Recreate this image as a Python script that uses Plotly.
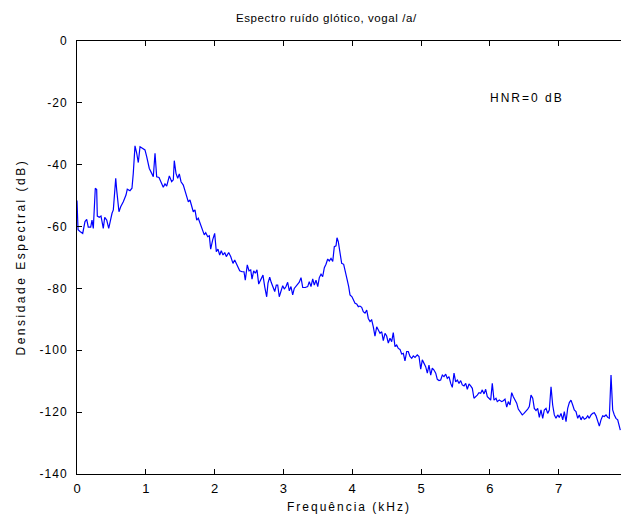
import plotly.graph_objects as go

freq_khz = [
    0.000, 0.015, 0.044, 0.083, 0.116, 0.141, 0.164, 0.199, 0.218, 0.237,
    0.266, 0.286, 0.295, 0.324, 0.349, 0.382, 0.403, 0.432, 0.461, 0.480,
    0.509, 0.528, 0.563, 0.577, 0.610, 0.635, 0.673, 0.712, 0.731, 0.770,
    0.799, 0.818, 0.843, 0.868, 0.891, 0.916, 0.955, 0.988, 1.013, 1.051,
    1.086, 1.109, 1.134, 1.158, 1.192, 1.231, 1.254, 1.279, 1.304, 1.342,
    1.376, 1.400, 1.414, 1.439, 1.464, 1.487, 1.512, 1.545, 1.570, 1.594,
    1.618, 1.642, 1.667, 1.690, 1.715, 1.740, 1.763, 1.788, 1.821, 1.850,
    1.871, 1.900, 1.923, 1.943, 1.972, 2.001, 2.025, 2.049, 2.074, 2.097,
    2.122, 2.147, 2.170, 2.205, 2.234, 2.267, 2.292, 2.330, 2.365, 2.398,
    2.427, 2.446, 2.475, 2.500, 2.525, 2.544, 2.568, 2.592, 2.616, 2.641,
    2.670, 2.703, 2.728, 2.757, 2.776, 2.801, 2.824, 2.849, 2.874, 2.897,
    2.917, 2.940, 2.965, 2.990, 3.013, 3.038, 3.062, 3.086, 3.110, 3.135,
    3.158, 3.183, 3.208, 3.231, 3.256, 3.281, 3.318, 3.353, 3.376, 3.401,
    3.426, 3.449, 3.474, 3.499, 3.522, 3.547, 3.571, 3.595, 3.619, 3.644,
    3.667, 3.692, 3.717, 3.740, 3.765, 3.779, 3.798, 3.823, 3.847, 3.876,
    3.900, 3.924, 3.949, 3.968, 3.997, 4.016, 4.041, 4.065, 4.089, 4.113,
    4.138, 4.161, 4.186, 4.211, 4.234, 4.259, 4.283, 4.307, 4.331, 4.356,
    4.379, 4.404, 4.429, 4.452, 4.477, 4.501, 4.525, 4.549, 4.574, 4.597,
    4.622, 4.647, 4.670, 4.695, 4.719, 4.743, 4.767, 4.792, 4.815, 4.840,
    4.865, 4.888, 4.913, 4.946, 4.971, 4.996, 5.019, 5.044, 5.068, 5.092,
    5.116, 5.141, 5.164, 5.189, 5.214, 5.237, 5.262, 5.286, 5.310, 5.334,
    5.359, 5.382, 5.407, 5.432, 5.455, 5.480, 5.504, 5.528, 5.552, 5.577,
    5.600, 5.625, 5.650, 5.673, 5.698, 5.722, 5.746, 5.770, 5.795, 5.818,
    5.843, 5.868, 5.891, 5.916, 5.940, 5.964, 5.988, 6.013, 6.036, 6.061,
    6.090, 6.109, 6.138, 6.173, 6.196, 6.221, 6.246, 6.269, 6.294, 6.318,
    6.342, 6.366, 6.391, 6.414, 6.439, 6.472, 6.497, 6.526, 6.551, 6.574,
    6.599, 6.624, 6.647, 6.672, 6.696, 6.720, 6.744, 6.769, 6.792, 6.817,
    6.841, 6.865, 6.890, 6.914, 6.938, 6.962, 6.987, 7.010, 7.035, 7.060,
    7.083, 7.108, 7.132, 7.156, 7.180, 7.205, 7.228, 7.253, 7.278, 7.301,
    7.326, 7.350, 7.374, 7.398, 7.423, 7.446, 7.471, 7.496, 7.519, 7.544,
    7.568, 7.592, 7.616, 7.641, 7.664, 7.689, 7.714, 7.737, 7.762, 7.786,
    7.810, 7.834, 7.859, 7.882, 7.897,
]

dens_db = [
    -51.6, -61.0, -61.6, -62.2, -58.4, -57.7, -60.2, -60.2, -57.9, -60.6,
    -47.6, -48.0, -56.6, -57.0, -56.6, -60.6, -57.0, -57.9, -60.6, -58.4,
    -55.7, -54.6, -44.4, -48.2, -55.2, -53.6, -52.0, -49.8, -47.9, -48.4,
    -47.6, -42.8, -33.9, -36.3, -39.3, -34.2, -34.7, -35.2, -37.4, -41.2,
    -42.8, -43.9, -36.3, -43.9, -44.1, -46.0, -47.3, -46.2, -46.9, -43.6,
    -45.5, -44.9, -38.7, -42.8, -44.4, -43.0, -45.5, -46.6, -48.7, -49.8,
    -52.0, -51.4, -53.0, -55.2, -54.6, -57.9, -57.3, -58.9, -60.6, -62.7,
    -62.0, -63.3, -63.0, -67.3, -64.3, -62.2, -68.1, -67.3, -69.2, -67.8,
    -69.2, -68.4, -69.7, -68.4, -69.7, -71.9, -70.8, -72.4, -74.3, -74.6,
    -74.6, -77.3, -72.4, -74.3, -74.0, -77.0, -74.3, -75.1, -74.0, -78.6,
    -77.3, -75.7, -79.4, -82.7, -78.3, -76.4, -78.1, -79.4, -81.0, -78.9,
    -78.9, -82.7, -80.5, -79.1, -80.2, -79.4, -78.0, -80.8, -79.4, -82.1,
    -80.0, -79.4, -78.7, -78.0, -76.5, -79.7, -79.7, -79.4, -77.8, -79.4,
    -76.9, -78.9, -77.3, -79.4, -76.5, -75.4, -76.2, -73.3, -72.2, -70.5,
    -71.1, -70.3, -71.3, -66.5, -66.2, -63.6, -64.9, -69.0, -71.9, -72.2,
    -75.1, -76.9, -79.4, -82.1, -82.7, -83.7, -84.8, -85.0, -85.9, -85.7,
    -86.1, -87.5, -88.0, -87.0, -89.7, -90.7, -90.2, -92.4, -95.4, -92.4,
    -93.4, -94.5, -94.0, -96.9, -94.5, -95.4, -97.7, -96.1, -97.2, -94.3,
    -98.8, -98.3, -99.4, -99.7, -101.2, -101.0, -103.4, -100.4, -100.4, -102.0,
    -102.6, -101.8, -102.3, -101.5, -102.0, -106.1, -103.1, -104.0, -105.3, -107.4,
    -104.8, -108.0, -105.8, -106.4, -107.4, -109.4, -109.8, -109.6, -108.0, -108.5,
    -107.7, -109.1, -108.5, -110.7, -112.0, -107.4, -110.2, -109.6, -110.7, -109.8,
    -111.2, -111.5, -110.7, -112.6, -110.9, -111.5, -112.3, -115.5, -115.0, -114.5,
    -113.7, -113.9, -112.8, -114.1, -112.6, -115.0, -115.5, -116.1, -110.7, -116.1,
    -115.5, -116.6, -116.1, -116.6, -116.3, -115.8, -118.4, -116.6, -117.7, -113.7,
    -115.0, -116.3, -117.1, -119.0, -119.8, -120.9, -120.4, -119.8, -119.0, -118.2,
    -114.5, -115.5, -118.8, -119.5, -118.8, -121.7, -119.3, -122.0, -119.3, -118.8,
    -120.4, -119.3, -111.8, -117.7, -120.9, -122.0, -120.9, -121.7, -120.4, -122.5,
    -119.8, -123.1, -118.8, -116.9, -116.1, -117.7, -119.3, -119.8, -122.0, -120.9,
    -122.5, -121.4, -122.3, -122.0, -121.2, -122.0, -120.9, -120.4, -120.2, -121.2,
    -122.7, -124.5, -122.5, -121.2, -121.4, -120.9, -121.7, -122.0, -108.0, -119.3,
    -120.9, -122.0, -122.5, -124.2, -125.8,
]

x_ticks = [0, 1, 2, 3, 4, 5, 6, 7]
x_tick_labels = ["0", "1", "2", "3", "4", "5", "6", "7"]
y_ticks = [0, -20, -40, -60, -80, -100, -120, -140]
y_tick_labels = ["0", "-20", "-40", "-60", "-80", "-100", "-120", "-140"]

title_text = "Espectro ruído glótico, vogal /a/"
x_label = "Frequência (kHz)"
y_label = "Densidade Espectral (dB)"
note_text = "HNR=0 dB"

FONT = "Liberation Sans, Arial, sans-serif"


def spaced(text, px):
    return "<span style='letter-spacing:%spx'>%s</span>" % (px, text)


fig = go.Figure()
fig.add_trace(go.Scatter(
    x=freq_khz, y=dens_db, mode="lines",
    line=dict(color="#0000ff", width=1.2),
    showlegend=False, hoverinfo="skip",
))

fig.update_layout(
    width=621, height=516,
    margin=dict(l=77, r=0, t=41, b=42),
    paper_bgcolor="white", plot_bgcolor="white",
    font=dict(family=FONT, size=12, color="black"),
    xaxis=dict(
        range=[0, 7.907], tickvals=x_ticks, ticktext=x_tick_labels,
        ticks="inside", ticklen=5, tickcolor="black", tickwidth=1,
        showline=True, linecolor="black", linewidth=1, mirror="ticks",
        showgrid=False, zeroline=False,
        tickfont=dict(family=FONT, size=13),
        ticklabelstandoff=2,
    ),
    yaxis=dict(
        range=[-140, 0], tickvals=y_ticks,
        ticktext=[spaced(t, 1) for t in y_tick_labels],
        ticks="inside", ticklen=5, tickcolor="black", tickwidth=1,
        showline=True, linecolor="black", linewidth=1,
        showgrid=False, zeroline=False,
        tickfont=dict(family=FONT, size=12),
        ticklabelstandoff=6,
    ),
    annotations=[
        dict(text=spaced(title_text, 0.6), xref="paper", yref="paper",
             x=(326 - 77) / 544, y=1 + 23 / 433, xanchor="center", yanchor="middle",
             showarrow=False, font=dict(family=FONT, size=11.5)),
        dict(text=spaced(x_label, 2), xref="paper", yref="paper",
             x=0.5, y=-33 / 433, xanchor="center", yanchor="middle",
             showarrow=False, font=dict(family=FONT, size=12)),
        dict(text=spaced(y_label, 2.5), xref="paper", yref="paper",
             x=-57 / 544, y=0.5, xanchor="center", yanchor="middle",
             textangle=-90, showarrow=False, font=dict(family=FONT, size=12)),
        dict(text=spaced(note_text, 2), xref="x", yref="y",
             x=5.97, y=-18.4, xanchor="left", yanchor="middle",
             showarrow=False, font=dict(family=FONT, size=12)),
    ],
)

fig.write_html("out.html")
